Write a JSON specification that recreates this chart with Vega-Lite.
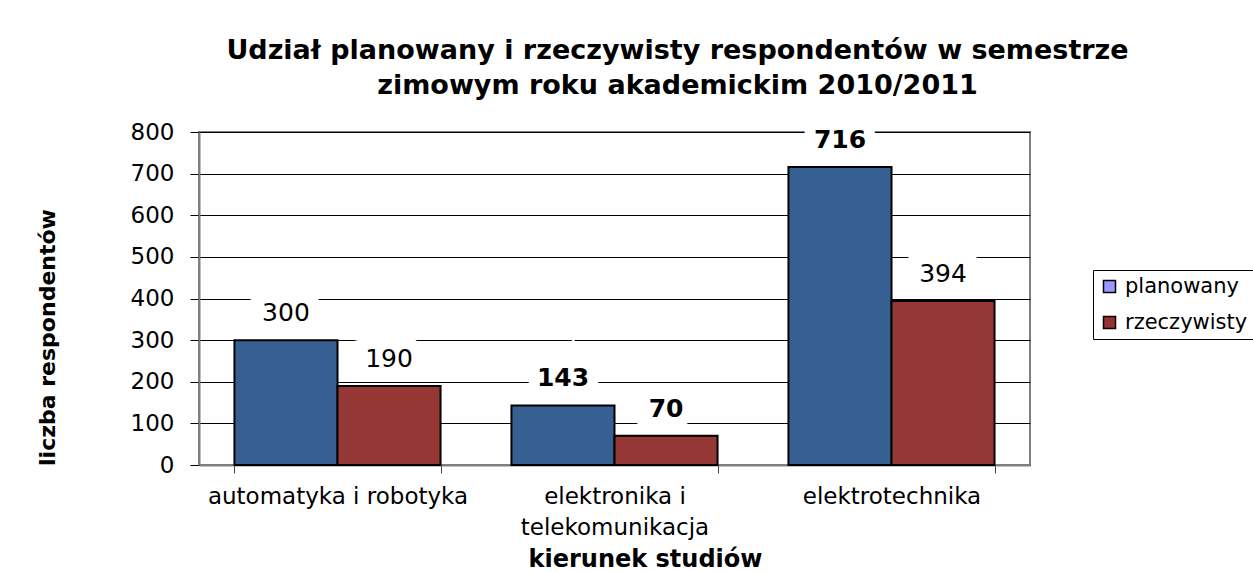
{
  "$schema": "https://vega.github.io/schema/vega-lite/v6.json",
  "width": 831,
  "height": 333,
  "autosize": {"type": "none"},
  "padding": {"left": 199, "top": 132, "right": 223, "bottom": 107},
  "background": "white",
  "title": {
    "text": ["Udział planowany i rzeczywisty respondentów w semestrze", "zimowym roku akademickim 2010/2011"],
    "font": "DejaVu Sans",
    "fontSize": 27,
    "fontWeight": "bold",
    "color": "black",
    "anchor": "middle",
    "frame": "group",
    "dx": 63,
    "offset": 21,
    "lineHeight": 35
  },
  "config": {
    "view": {"stroke": "#808080", "strokeWidth": 2},
    "axis": {
      "labelFont": "DejaVu Sans",
      "labelFontSize": 23,
      "labelColor": "black",
      "titleFont": "DejaVu Sans",
      "titleFontWeight": "bold",
      "titleColor": "black"
    }
  },
  "data": {
    "values": [
      {"kierunek": "automatyka i robotyka", "typ": "planowany", "liczba": 300},
      {"kierunek": "automatyka i robotyka", "typ": "rzeczywisty", "liczba": 190},
      {"kierunek": "elektronika i telekomunikacja", "typ": "planowany", "liczba": 143},
      {"kierunek": "elektronika i telekomunikacja", "typ": "rzeczywisty", "liczba": 70},
      {"kierunek": "elektrotechnika", "typ": "planowany", "liczba": 716},
      {"kierunek": "elektrotechnika", "typ": "rzeczywisty", "liczba": 394}
    ]
  },
  "encoding": {
    "x": {
      "field": "kierunek",
      "type": "nominal",
      "sort": null,
      "scale": {"paddingInner": 0.256, "paddingOuter": 0.128},
      "axis": {
        "title": "kierunek studiów",
        "titleFontSize": 24,
        "titleX": 446,
        "titlePadding": 8,
        "labelAngle": 0,
        "labelLimit": 400,
        "tickBand": "extent",
        "tickSize": 8,
        "tickColor": "#404040",
        "domainColor": "#808080",
        "domainWidth": 2,
        "grid": false,
        "labelPadding": 12,
        "labelLineHeight": 31,
        "labelExpr": "datum.label == 'elektronika i telekomunikacja' ? ['elektronika i', 'telekomunikacja'] : datum.label"
      }
    },
    "xOffset": {"field": "typ", "type": "nominal", "sort": ["planowany", "rzeczywisty"]},
    "y": {
      "field": "liczba",
      "type": "quantitative",
      "scale": {"domain": [0, 800]},
      "axis": {
        "title": "liczba respondentów",
        "titleFontSize": 22,
        "titleY": 205,
        "titleX": -140,
        "values": [0, 100, 200, 300, 400, 500, 600, 700, 800],
        "tickSize": 9,
        "tickColor": "black",
        "labelPadding": 16,
        "domainColor": "#808080",
        "domainWidth": 2,
        "gridColor": "black",
        "gridOpacity": 1,
        "gridWidth": 1
      }
    }
  },
  "resolve": {"scale": {"color": "independent"}, "legend": {"color": "independent"}},
  "layer": [
    {
      "mark": {"type": "bar", "stroke": "black", "strokeWidth": 2},
      "encoding": {
        "color": {
          "field": "typ",
          "type": "nominal",
          "scale": {"domain": ["planowany", "rzeczywisty"], "range": ["#376092", "#953735"]},
          "legend": null
        }
      }
    },
    {
      "mark": {"type": "text", "font": "DejaVu Sans", "fontSize": 25, "fontWeight": "bold", "baseline": "middle", "dy": -27, "stroke": "white", "strokeWidth": 22, "strokeJoin": "miter", "fill": "white"},
      "encoding": {"text": {"field": "liczba", "type": "quantitative"}}
    },
    {
      "transform": [{"filter": "indexof([143, 70, 716], datum.liczba) >= 0"}],
      "mark": {"type": "text", "font": "DejaVu Sans", "fontSize": 25, "fontWeight": "bold", "baseline": "middle", "dy": -27, "color": "black"},
      "encoding": {"text": {"field": "liczba", "type": "quantitative"}}
    },
    {
      "transform": [{"filter": "indexof([143, 70, 716], datum.liczba) < 0"}],
      "mark": {"type": "text", "font": "DejaVu Sans", "fontSize": 25, "fontWeight": "normal", "baseline": "middle", "dy": -27, "color": "black"},
      "encoding": {"text": {"field": "liczba", "type": "quantitative"}}
    },
    {
      "mark": {"type": "square", "size": 0, "filled": true, "opacity": 1},
      "encoding": {
        "color": {
          "field": "typ",
          "type": "nominal",
          "scale": {"domain": ["planowany", "rzeczywisty"], "range": ["#9999FF", "#993333"]},
          "legend": {
            "title": null,
            "orient": "none",
            "legendX": 894,
            "legendY": 138,
            "strokeColor": "black",
            "padding": 6,
            "symbolType": "square",
            "symbolSize": 144,
            "symbolStrokeColor": "black",
            "symbolStrokeWidth": 1.5,
            "symbolOpacity": 1,
            "labelFont": "DejaVu Sans",
            "labelFontSize": 21,
            "labelColor": "black",
            "labelLimit": 300,
            "rowPadding": 14,
            "labelOffset": 5
          }
        }
      }
    }
  ]
}
